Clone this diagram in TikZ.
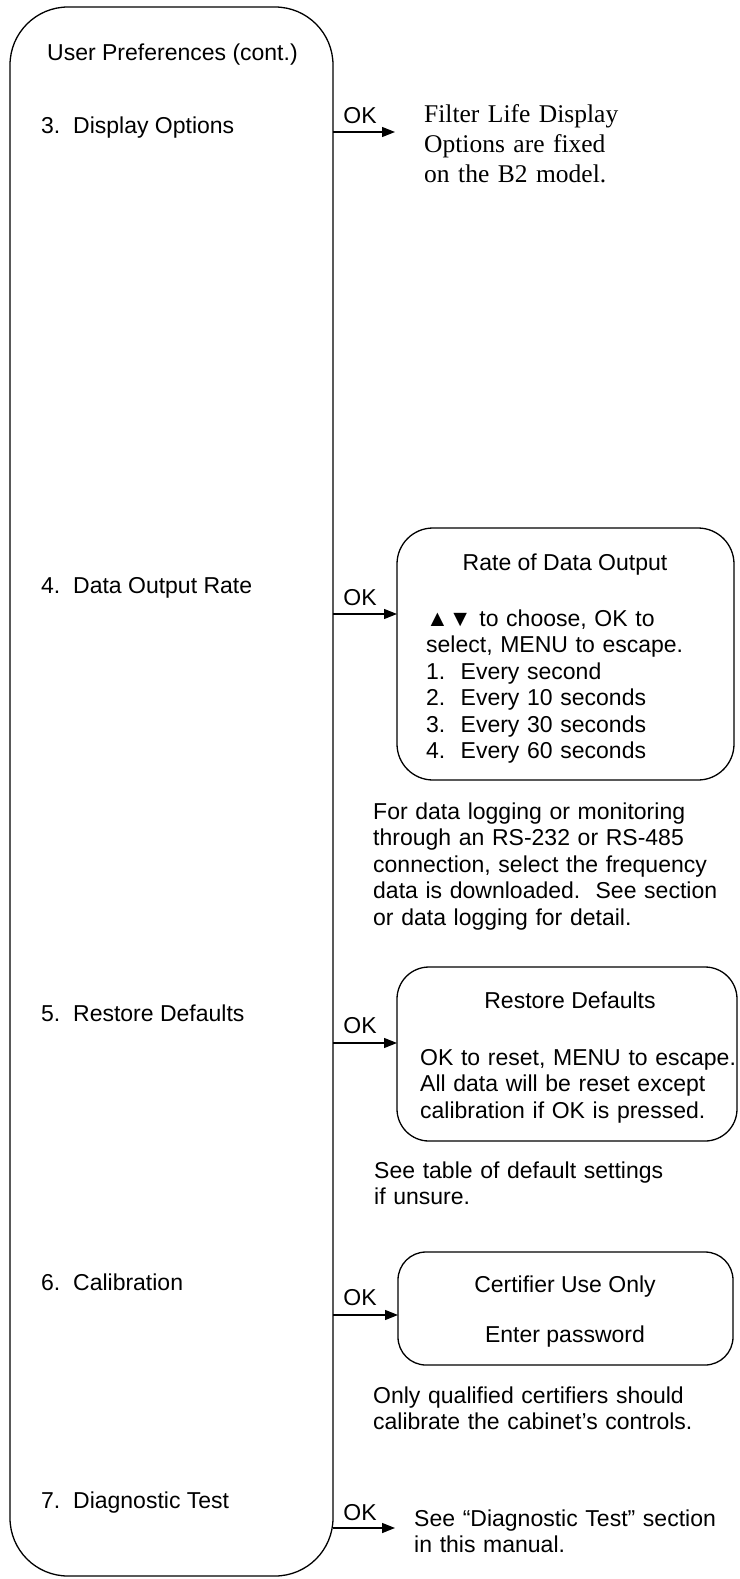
\documentclass[tikz,border=0pt]{standalone}
\usepackage{fontspec}
\setmainfont{Liberation Sans}
\newfontfamily\timesfont{Liberation Serif}
\usetikzlibrary{arrows.meta}
\tikzset{
  frame/.style={draw, line width=1.3pt, inner sep=0pt, outer sep=0pt, anchor=north west},
  lbl/.style={font=\fontsize{23}{26.5}\selectfont, inner sep=0pt, anchor=base west},
  cen/.style={font=\fontsize{23}{26.5}\selectfont, inner sep=0pt, anchor=base},
  para/.style={lbl, align=left, text width=#1},
  para/.default=300pt,
  serifpara/.style={font=\timesfont\fontsize{25.5}{30}\selectfont, inner sep=0pt, anchor=base west, align=left, text width=260pt},
  arr/.style={line width=1.3pt, -{Triangle[length=13pt,width=10pt]}}
}
\begin{document}
\begin{tikzpicture}[x=1pt,y=-1pt]
\useasboundingbox (0,0) rectangle (739,1579);
\fill[white] (0,0) rectangle (739,1579);

% main column box
\node[frame, rounded corners=58pt, minimum width=323pt, minimum height=1569pt] (main) at (10,7) {};
\node[lbl] (title) at (47,60) {User Preferences (cont.)};

% 3. Display Options
\node[lbl] (i3) at (41,133) {3.~~Display Options};
\coordinate (e3) at (395,132);
\draw[arr] (main.east |- e3) -- (e3);
\node[cen] (ok3) at (360,123) {OK};
\node[serifpara] (filter) at (424,122) {Filter Life Display\\Options are fixed\\on the B2 model.};

% 4. Data Output Rate
\node[lbl] (i4) at (41,593) {4.~~Data Output Rate};
\node[frame, rounded corners=36pt, minimum width=337pt, minimum height=252pt] (rate) at (397,528) {};
\draw[arr] (main.east |- 0,614) -- (rate.west |- 0,614);
\node[cen] (ok4) at (360,605) {OK};
\node[cen] (ratetitle) at (565,570) {Rate of Data Output};
\node[para] (ratetext) at (426,626) {▲▼ to choose, OK to\\select, MENU to escape.\\1.~~Every second\\2.~~Every 10 seconds\\3.~~Every 30 seconds\\4.~~Every 60 seconds};
\node[para=350pt] (ratenote) at (373,819) {For data logging or monitoring\\through an RS-232 or RS-485\\connection, select the frequency\\data is downloaded.~~See section\\or data logging for detail.};

% 5. Restore Defaults
\node[lbl] (i5) at (41,1021) {5.~~Restore Defaults};
\node[frame, rounded corners=32pt, minimum width=340pt, minimum height=174pt] (restore) at (397,967) {};
\draw[arr] (main.east |- 0,1043) -- (restore.west |- 0,1043);
\node[cen] (ok5) at (360,1033) {OK};
\node[cen] (restoretitle) at (570,1008) {Restore Defaults};
\node[para=316pt] (restoretext) at (420,1065) {OK to reset, MENU to escape.\\All data will be reset except\\calibration if OK is pressed.};
\node[para] (restorenote) at (374,1178) {See table of default settings\\if unsure.};

% 6. Calibration
\node[lbl] (i6) at (41,1290) {6.~~Calibration};
\node[frame, rounded corners=28pt, minimum width=335pt, minimum height=113pt] (cert) at (398,1252) {};
\draw[arr] (main.east |- 0,1315) -- (cert.west |- 0,1315);
\node[cen] (ok6) at (360,1305) {OK};
\node[cen] (certtitle) at (565,1292) {Certifier Use Only};
\node[cen] (certpw) at (565,1342) {Enter password};
\node[para=340pt] (certnote) at (373,1403) {Only qualified certifiers should\\calibrate the cabinet’s controls.};

% 7. Diagnostic Test
\node[lbl] (i7) at (41,1508) {7.~~Diagnostic Test};
\coordinate (e7) at (395,1528);
\draw[arr] (main.east |- e7) -- (e7);
\node[cen] (ok7) at (360,1520) {OK};
\node[para=320pt] (diag) at (414,1526) {See “Diagnostic Test” section\\in this manual.};
\end{tikzpicture}
\end{document}
